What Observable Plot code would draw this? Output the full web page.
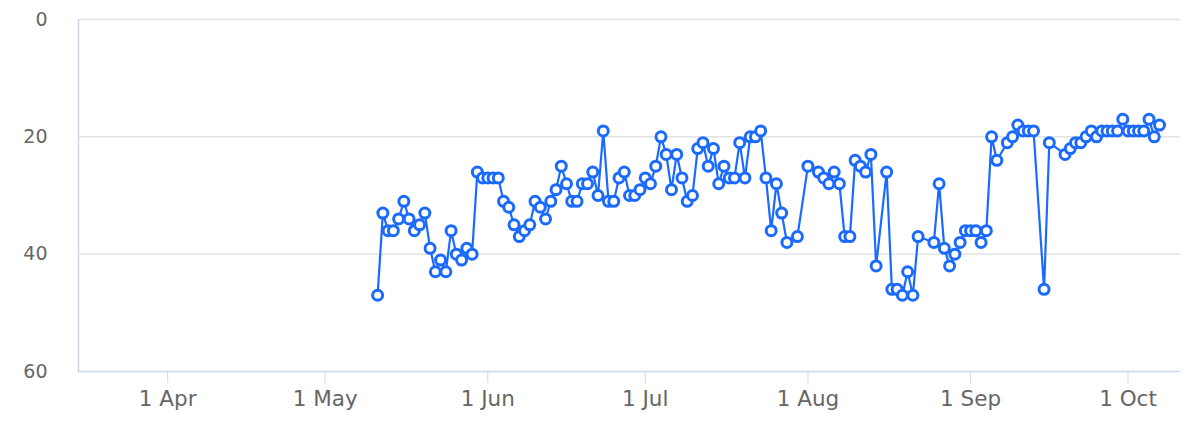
<!DOCTYPE html>
<html>
<head>
<meta charset="utf-8">
<script src="https://cdn.jsdelivr.net/npm/d3@7"></script>
<script src="https://cdn.jsdelivr.net/npm/@observablehq/plot@0.6"></script>
<style>
  html, body { margin: 0; padding: 0; background: #fff; }
  #chart svg { display: block; }
</style>
</head>
<body>
<div id="chart"></div>
<script>
// Observation dates (daily series, year arbitrary)
const dates = [
  "05-11","05-12","05-13","05-14","05-15","05-16","05-17","05-18","05-19","05-20",
  "05-21","05-22","05-23","05-24","05-25","05-26","05-27","05-28","05-29","05-30",
  "05-31","06-01","06-02","06-03","06-04","06-05","06-06","06-07","06-08","06-09",
  "06-10","06-11","06-12","06-13","06-14","06-15","06-16","06-17","06-18","06-19",
  "06-20","06-21","06-22","06-23","06-24","06-25","06-26","06-27","06-28","06-29",
  "06-30","07-01","07-02","07-03","07-04","07-05","07-06","07-07","07-08","07-09",
  "07-10","07-11","07-12","07-13","07-14","07-15","07-16","07-17","07-18","07-19",
  "07-20","07-21","07-22","07-23","07-24","07-25","07-26","07-27","07-28","07-30",
  "08-01","08-03","08-04","08-05","08-06","08-07","08-08","08-09","08-10","08-11",
  "08-12","08-13","08-14","08-16","08-17","08-18","08-19","08-20","08-21","08-22",
  "08-25","08-26","08-27","08-28","08-29","08-30","08-31","09-01","09-02","09-03",
  "09-04","09-05","09-06","09-08","09-09","09-10","09-11","09-12","09-13","09-15",
  "09-16","09-19","09-20","09-21","09-22","09-23","09-24","09-25","09-26","09-27",
  "09-28","09-29","09-30","10-01","10-02","10-03","10-04","10-05","10-06","10-07"
];
// Values (rank, lower is better — axis reversed)
const ranks = [
  47,33,36,36,34,31,34,36,35,33,
  39,43,41,43,36,40,41,39,40,26,
  27,27,27,27,31,32,35,37,36,35,
  31,32,34,31,29,25,28,31,31,28,
  28,26,30,19,31,31,27,26,30,30,
  29,27,28,25,20,23,29,23,27,31,
  30,22,21,25,22,28,25,27,27,21,
  27,20,20,19,27,36,28,33,38,37,
  25,26,27,28,26,28,37,37,24,25,
  26,23,42,26,46,46,47,43,47,37,
  38,28,39,42,40,38,36,36,36,38,
  36,20,24,21,20,18,19,19,19,46,
  21,23,22,21,21,20,19,20,19,19,
  19,19,17,19,19,19,19,17,20,18
];
const yTicks = [0, 20, 40, 60];
const monthTicks = ["04-01","05-01","06-01","07-01","08-01","09-01","10-01"];
const domainDates = ["03-15","10-11"];
const YEAR = "2020-";

const parse = s => new Date(YEAR + s + "T00:00:00Z");
const data = dates.map((d, i) => ({date: parse(d), rank: ranks[i]}));

const blue = "#1a6aff";
const axisColor = "#ccd6eb";
const gridColor = "#e3e3e3";
const textColor = "#666666";

const chart = Plot.plot({
  width: 1200,
  height: 444,
  marginLeft: 78,
  marginRight: 20,
  marginTop: 19,
  marginBottom: 73,
  style: {fontFamily: "DejaVu Sans", fontSize: "19px", color: textColor, background: "#fff"},
  x: {type: "utc", domain: domainDates.map(parse)},
  y: {domain: [0, 60], reverse: true},
  marks: [
    Plot.gridY(yTicks.filter(t => t !== 60), {stroke: gridColor, strokeOpacity: 1, strokeWidth: 1.5}),
    Plot.ruleY([60], {stroke: axisColor, strokeWidth: 1.5}),
    Plot.ruleX([parse(domainDates[0])], {stroke: axisColor, strokeWidth: 1.5}),
    Plot.axisY(yTicks, {tickSize: 0, tickPadding: 31, fill: textColor, fontSize: 19, label: null}),
    Plot.axisX(monthTicks.map(parse), {
      tickSize: 12, tickPadding: 7, stroke: axisColor, strokeOpacity: 1,
      fill: textColor, fontSize: 21.5, label: null,
      tickFormat: d3.utcFormat("%-d %b")
    }),
    Plot.line(data, {x: "date", y: "rank", stroke: blue, strokeWidth: 2.2}),
    Plot.dot(data, {x: "date", y: "rank", r: 5, fill: "white", stroke: blue, strokeWidth: 3})
  ]
});
document.getElementById("chart").appendChild(chart);
</script>
</body>
</html>
